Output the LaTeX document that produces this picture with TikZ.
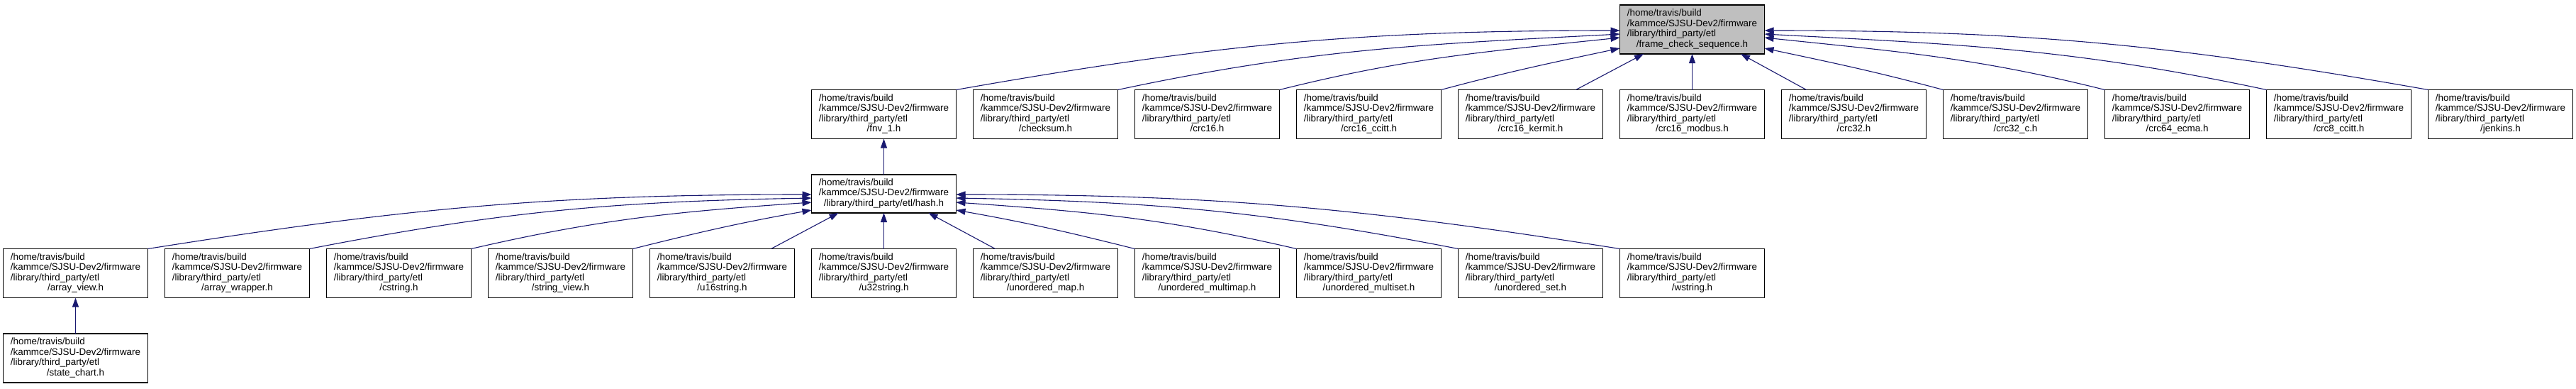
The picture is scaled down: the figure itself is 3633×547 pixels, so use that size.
\documentclass[tikz,border=0pt]{standalone}
\usepackage{fontspec}
\setmainfont{Liberation Sans}
\usetikzlibrary{positioning,arrows.meta}
\definecolor{edgeblue}{RGB}{25,25,112}
\definecolor{focusgray}{RGB}{191,191,191}
\newcommand{\etlfile}[1]{\begin{tabular}{@{}l@{}}/home/travis/build\\/kammce/SJSU-Dev2/firmware\\/library/third\_party/etl\\\multicolumn{1}{@{}c@{}}{/#1}\end{tabular}}

\begin{document}
\begin{tikzpicture}[
    x=1pt, y=1pt,
    node distance=50.5pt and 24pt,
    file/.style={draw, line width=1.2pt, outer sep=0pt, inner sep=0pt,
                 minimum width=204pt, minimum height=69pt,
                 font=\fontsize{13.4}{14.6}\selectfont},
    focus/.style={file, fill=focusgray},
    dep/.style={-{Triangle[length=13pt,width=9pt]}, draw=edgeblue, line width=1.1pt},
]
\useasboundingbox (0,0) rectangle (3633,-547);

% ---- frame_check_sequence.h and its includers ----
\node[focus] (fcs) at (2386.5,-41.5) {\etlfile{frame\_check\_sequence.h}};
\node[file, below=of fcs]        (crc16modbus) {\etlfile{crc16\_modbus.h}};
\node[file, left=of crc16modbus] (crc16kermit) {\etlfile{crc16\_kermit.h}};
\node[file, left=of crc16kermit] (crc16ccitt)  {\etlfile{crc16\_ccitt.h}};
\node[file, left=of crc16ccitt]  (crc16)       {\etlfile{crc16.h}};
\node[file, left=of crc16]       (checksum)    {\etlfile{checksum.h}};
\node[file, left=of checksum]    (fnv)         {\etlfile{fnv\_1.h}};
\node[file, right=of crc16modbus](crc32)       {\etlfile{crc32.h}};
\node[file, right=of crc32]      (crc32c)      {\etlfile{crc32\_c.h}};
\node[file, right=of crc32c]     (crc64ecma)   {\etlfile{crc64\_ecma.h}};
\node[file, right=of crc64ecma]  (crc8ccitt)   {\etlfile{crc8\_ccitt.h}};
\node[file, right=of crc8ccitt]  (jenkins)     {\etlfile{jenkins.h}};

\draw[dep] (fnv.north east)      to[out=10,in=180]  ([yshift=-1.5pt]fcs.west);
\draw[dep] (checksum.north east) to[out=12,in=183]  ([yshift=-6.5pt]fcs.west);
\draw[dep] (crc16.north east)    to[out=14,in=186]  ([yshift=-11.5pt]fcs.west);
\draw[dep] (crc16ccitt.north east) to[out=15,in=192] ([yshift=-26.5pt]fcs.west);
\draw[dep] ([xshift=64pt]crc16kermit.north) -- ([xshift=-68.5pt]fcs.south);
\draw[dep] (crc16modbus) -- (fcs);
\draw[dep] ([xshift=-67pt]crc32.north) -- ([xshift=68.5pt]fcs.south);
\draw[dep] (crc32c.north west)    to[out=165,in=348] ([yshift=-26.5pt]fcs.east);
\draw[dep] (crc64ecma.north west) to[out=166,in=354] ([yshift=-11.5pt]fcs.east);
\draw[dep] (crc8ccitt.north west) to[out=168,in=357] ([yshift=-6.5pt]fcs.east);
\draw[dep] (jenkins.north west)   to[out=170,in=0]   ([yshift=-1.5pt]fcs.east);

% ---- hash.h and its includers ----
\node[file, below=of fnv, minimum height=54pt] (hash)
     {\begin{tabular}{@{}l@{}}/home/travis/build\\/kammce/SJSU-Dev2/firmware\\\multicolumn{1}{@{}c@{}}{/library/third\_party/etl/hash.h}\end{tabular}};
\node[file, below=of hash]        (u32string)     {\etlfile{u32string.h}};
\node[file, left=of u32string]    (u16string)     {\etlfile{u16string.h}};
\node[file, left=of u16string]    (stringview)    {\etlfile{string\_view.h}};
\node[file, left=of stringview]   (cstring)       {\etlfile{cstring.h}};
\node[file, left=of cstring]      (arraywrapper)  {\etlfile{array\_wrapper.h}};
\node[file, left=of arraywrapper] (arrayview)     {\etlfile{array\_view.h}};
\node[file, right=of u32string]   (umap)          {\etlfile{unordered\_map.h}};
\node[file, right=of umap]        (umultimap)     {\etlfile{unordered\_multimap.h}};
\node[file, right=of umultimap]   (umultiset)     {\etlfile{unordered\_multiset.h}};
\node[file, right=of umultiset]   (uset)          {\etlfile{unordered\_set.h}};
\node[file, right=of uset]        (wstring)       {\etlfile{wstring.h}};
\node[file, below=of arrayview]   (statechart)    {\etlfile{state\_chart.h}};

\draw[dep] (hash) -- (fnv);
\draw[dep] (arrayview.north east)    to[out=9,in=180]  ([yshift=-1pt]hash.west);
\draw[dep] (arraywrapper.north east) to[out=11,in=181] ([yshift=-6pt]hash.west);
\draw[dep] (cstring.north east)      to[out=13,in=184] ([yshift=-12pt]hash.west);
\draw[dep] (stringview.north east)   to[out=14,in=190] ([yshift=-23pt]hash.west);
\draw[dep] ([xshift=69pt]u16string.north) -- ([xshift=-64pt]hash.south);
\draw[dep] (u32string) -- (hash);
\draw[dep] ([xshift=-71pt]umap.north) -- ([xshift=63pt]hash.south);
\draw[dep] (umultimap.north west)    to[out=166,in=350] ([yshift=-23pt]hash.east);
\draw[dep] (umultiset.north west)    to[out=167,in=356] ([yshift=-12pt]hash.east);
\draw[dep] (uset.north west)         to[out=169,in=359] ([yshift=-6pt]hash.east);
\draw[dep] (wstring.north west)      to[out=171,in=0]   ([yshift=-1pt]hash.east);
\draw[dep] (statechart) -- (arrayview);
\end{tikzpicture}
\end{document}
